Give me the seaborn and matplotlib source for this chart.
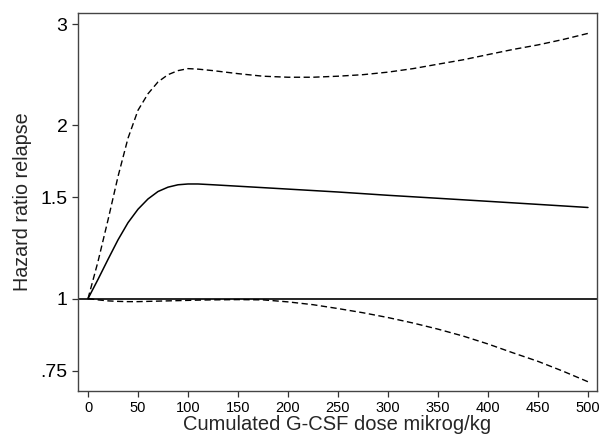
import pandas as pd
import matplotlib
matplotlib.use("Agg")
import matplotlib.pyplot as plt
import seaborn as sns

dose = [0, 10, 20, 30, 40, 50, 60, 70, 80, 90, 100, 110, 125, 150, 175, 200,
        225, 250, 275, 300, 325, 350, 375, 400, 425, 450, 475, 500]
hr = [1.0, 1.08, 1.17, 1.265, 1.355, 1.43, 1.49, 1.535, 1.562, 1.577, 1.582,
      1.582, 1.577, 1.568, 1.559, 1.550, 1.541, 1.532, 1.522, 1.512, 1.503,
      1.494, 1.485, 1.476, 1.467, 1.458, 1.449, 1.44]
upper = [1.0, 1.16, 1.37, 1.63, 1.90, 2.125, 2.27, 2.38, 2.45, 2.49, 2.51,
         2.505, 2.49, 2.46, 2.435, 2.425, 2.425, 2.435, 2.45, 2.475, 2.51,
         2.555, 2.60, 2.655, 2.71, 2.76, 2.82, 2.89]
lower = [1.0, 0.995, 0.991, 0.989, 0.988, 0.988, 0.989, 0.990, 0.991, 0.992,
         0.993, 0.994, 0.995, 0.996, 0.995, 0.987, 0.976, 0.961, 0.945, 0.927,
         0.907, 0.885, 0.861, 0.834, 0.805, 0.778, 0.748, 0.717]

y_ticks = [0.75, 1, 1.5, 2, 3]
y_ticklabels = ['.75', '1', '1.5', '2', '3']
x_ticks = [0, 50, 100, 150, 200, 250, 300, 350, 400, 450, 500]

df = pd.DataFrame({'dose': dose, 'hr': hr, 'upper': upper, 'lower': lower})

sns.set_style("ticks")
plt.rcParams['font.family'] = ['Liberation Sans', 'DejaVu Sans']

fig = plt.figure(figsize=(6.01, 4.37), dpi=100)
ax = fig.add_axes([0.1298, 0.1053, 0.8635, 0.865])

ax.axhline(1, color='black', lw=1.2)
sns.lineplot(data=df, x='dose', y='hr', ax=ax, color='black', lw=1.1)
sns.lineplot(data=df, x='dose', y='upper', ax=ax, color='black', lw=1.0,
             linestyle=(0, (4.5, 2.5)))
sns.lineplot(data=df, x='dose', y='lower', ax=ax, color='black', lw=1.0,
             linestyle=(0, (4.5, 2.5)))

ax.set_yscale('log')
ax.set_ylim(0.691, 3.136)
ax.set_xlim(-10, 509)
ax.set_yticks(y_ticks)
ax.set_yticklabels(y_ticklabels)
ax.minorticks_off()
ax.set_xticks(x_ticks)
ax.tick_params(axis='y', left=True, labelsize=14, length=4, width=0.9, pad=3.5,
               color='#333333', labelcolor='black')
ax.tick_params(axis='x', bottom=True, labelsize=10.5, length=4, width=0.9, pad=3,
               color='#333333', labelcolor='black')
for s in ax.spines.values():
    s.set_visible(True)
    s.set_color('#444444')
    s.set_linewidth(1.0)

ax.set_xlabel('Cumulated G-CSF dose mikrog/kg', fontsize=14.5, labelpad=0)
ax.set_ylabel('Hazard ratio relapse', fontsize=14.2, labelpad=6)

fig.savefig('out.png', dpi=100)
